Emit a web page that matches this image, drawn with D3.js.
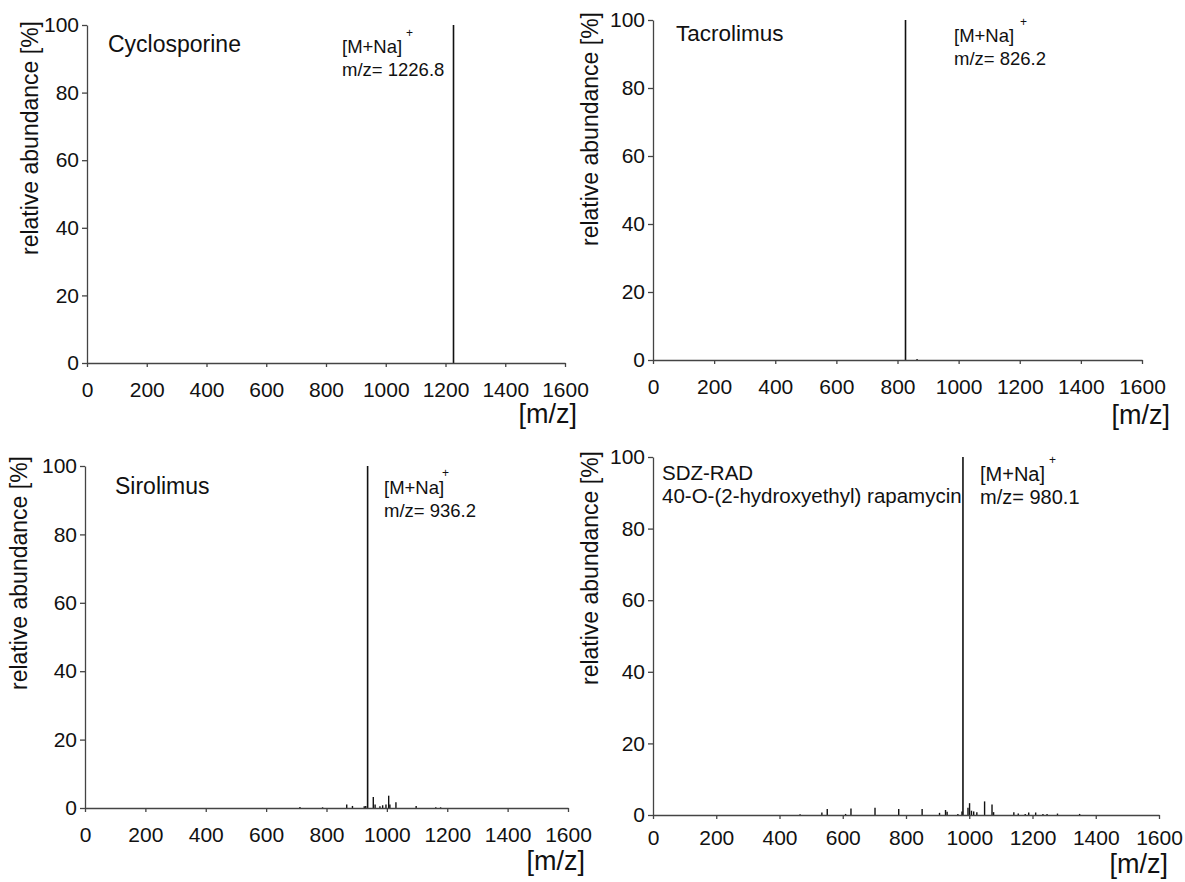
<!DOCTYPE html>
<html>
<head>
<meta charset="utf-8">
<script src="https://cdn.jsdelivr.net/npm/d3@7.9.0/dist/d3.min.js"></script>
<style>
  html, body { margin: 0; padding: 0; background: #fff; }
  svg { display: block; font-family: "Liberation Sans", Arial, sans-serif; }
  .axis path, .axis line { stroke: #444; stroke-width: 1.3; }
  .axis text { fill: #111; }
</style>
</head>
<body>
<svg id="chart" width="1185" height="882"></svg>
<script>
// tick values shared by all four spectra
const xTicks = [0, 200, 400, 600, 800, 1000, 1200, 1400, 1600];
const yTicks = [0, 20, 40, 60, 80, 100];

// peaks: [m/z, relative abundance %]
const cyclosporinePeaks = [[1226.8, 100]];
const tacrolimusPeaks = [[826.2, 100], [864, 0.3]];
const sirolimusPeaks = [
  [712, 0.3], [787, 0.2], [867, 1.0], [886, 0.6], [925, 0.5], [930, 0.6],
  [936.2, 100], [955, 3.2], [961, 1.0], [977, 0.5], [986, 0.8], [997, 1.0],
  [1006, 3.6], [1010, 1.0], [1030, 1.7], [1097, 0.6], [1162, 0.2], [1178, 0.2]
];
const sdzRadPeaks = [
  [465, 0.2], [534, 0.7], [551, 1.7], [609, 0.3], [626, 1.8], [702, 2.0],
  [777, 1.7], [851, 1.7], [906, 0.6], [925, 1.4], [930, 0.9], [964, 0.3],
  [977, 1.0], [980.1, 100], [996, 2.0], [1001, 3.3], [1007, 1.2], [1014, 1.0],
  [1024, 0.8], [1048.5, 3.8], [1072, 2.9], [1077, 0.8], [1141, 0.8], [1155, 0.4],
  [1177, 0.3], [1188, 0.7], [1210, 0.7], [1233, 0.3], [1246, 0.3], [1279, 0.4],
  [1349, 0.3]
];

const titles = [["Cyclosporine"], ["Tacrolimus"], ["Sirolimus"], ["SDZ-RAD", "40-O-(2-hydroxyethyl) rapamycin"]];
const ionLabels = ["m/z= 1226.8", "m/z= 826.2", "m/z= 936.2", "m/z= 980.1"];
const peakSets = [cyclosporinePeaks, tacrolimusPeaks, sirolimusPeaks, sdzRadPeaks];

// layout of each panel (pixels)
const panels = [
  { left: 87, right: 565, y0: 363, y100: 25, pad: 15, tx: 108, ty: 52, tf: 23, ax: 342, ay: 53, af: 18.5, plusX: 406, plusY: 37,
    ux: 577, uy: 423, lx: 38, ly: 138 },
  { left: 653, right: 1142, y0: 360, y100: 20, pad: 15, tx: 676, ty: 41, tf: 22.5, ax: 954, ay: 42, af: 18.5, plusX: 1020, plusY: 26,
    ux: 1170, uy: 424, lx: 598, ly: 129 },
  { left: 85, right: 568, y0: 808, y100: 466, pad: 15, tx: 115, ty: 494, tf: 23, ax: 384, ay: 494, af: 18.5, plusX: 442, plusY: 477,
    ux: 585, uy: 870, lx: 27, ly: 573 },
  { left: 653, right: 1159, y0: 815, y100: 457, pad: 11, tx: 662, ty: 480, tf: 20.5, ax: 980, ay: 481, af: 20, plusX: 1049, plusY: 464,
    ux: 1168, uy: 873, lx: 598, ly: 568 }
];

const svg = d3.select('#chart');

panels.forEach((p, i) => {
  const g = svg.append('g');

  const x = d3.scaleLinear().domain([0, 1600]).range([p.left, p.right]);
  const y = d3.scaleLinear().domain([0, 100]).range([p.y0, p.y100]);

  // peaks
  g.append('g')
    .selectAll('line')
    .data(peakSets[i])
    .join('line')
    .attr('x1', d => x(d[0]))
    .attr('x2', d => x(d[0]))
    .attr('y1', y(0))
    .attr('y2', d => y(d[1]))
    .attr('stroke', '#111')
    .attr('stroke-width', d => d[1] > 50 ? 1.6 : 1.4);

  // axes
  g.append('g')
    .attr('class', 'axis')
    .attr('transform', `translate(0,${p.y0})`)
    .call(d3.axisBottom(x).tickValues(xTicks).tickFormat(d => String(d))
      .tickSizeInner(4).tickSizeOuter(0).tickPadding(p.pad))
    .call(a => a.selectAll('text').attr('font-size', 21).attr('font-family', null));

  g.append('g')
    .attr('class', 'axis')
    .attr('transform', `translate(${p.left},0)`)
    .call(d3.axisLeft(y).tickValues(yTicks).tickFormat(d => String(d))
      .tickSizeInner(5).tickSizeOuter(0).tickPadding(3))
    .call(a => a.selectAll('text').attr('font-size', 21).attr('font-family', null));

  // title lines
  titles[i].forEach((t, k) => {
    g.append('text')
      .attr('x', p.tx)
      .attr('y', p.ty + k * 23)
      .attr('font-size', p.tf)
      .attr('fill', '#111')
      .text(t);
  });

  // ion annotation
  g.append('text')
    .attr('x', p.ax)
    .attr('y', p.ay)
    .attr('font-size', p.af)
    .attr('fill', '#111')
    .text('[M+Na]');
  g.append('text')
    .attr('x', p.plusX)
    .attr('y', p.plusY)
    .attr('font-size', 12)
    .attr('fill', '#111')
    .text('+');
  g.append('text')
    .attr('x', p.ax)
    .attr('y', p.ay + 23)
    .attr('font-size', p.af)
    .attr('fill', '#111')
    .text(ionLabels[i]);

  // unit label
  g.append('text')
    .attr('x', p.ux)
    .attr('y', p.uy)
    .attr('text-anchor', 'end')
    .attr('font-size', 27)
    .attr('fill', '#111')
    .text('[m/z]');

  // y label
  g.append('text')
    .attr('transform', `translate(${p.lx},${p.ly}) rotate(-90)`)
    .attr('text-anchor', 'middle')
    .attr('font-size', 23)
    .attr('fill', '#111')
    .text('relative abundance [%]');
});
</script>
</body>
</html>
